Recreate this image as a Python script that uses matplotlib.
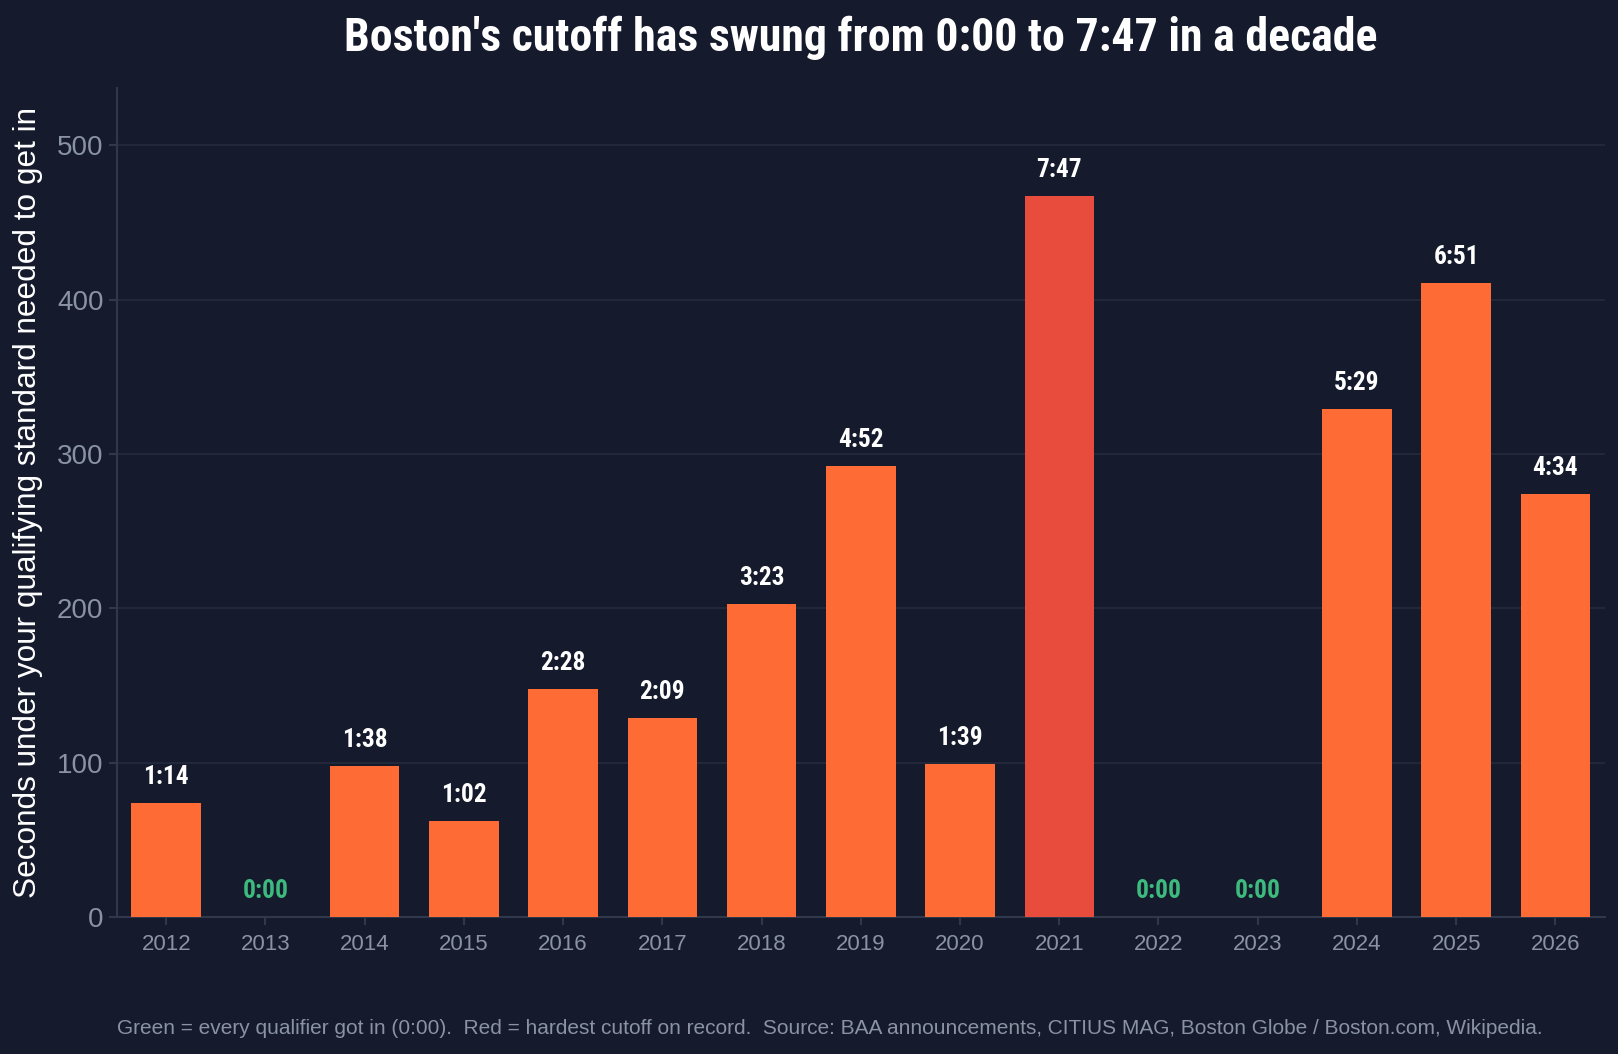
import matplotlib.pyplot as plt
import numpy as np

# data
years = ['2012', '2013', '2014', '2015', '2016', '2017', '2018', '2019',
         '2020', '2021', '2022', '2023', '2024', '2025', '2026']
cutoff_sec = [74, 0, 98, 62, 148, 129, 203, 292, 99, 467, 0, 0, 329, 411, 274]
labels = ['1:14', '0:00', '1:38', '1:02', '2:28', '2:09', '3:23', '4:52',
          '1:39', '7:47', '0:00', '0:00', '5:29', '6:51', '4:34']

BG = '#151b2c'
ORANGE = '#ff6b35'
RED = '#e84c3d'
GREEN = '#3dba7e'
GRID = '#232b3d'
SPINE = '#2f394b'
TICK = '#8a93a3'
cond = ['Roboto Condensed', 'DejaVu Sans']

plt.rcParams['font.family'] = ['Liberation Sans', 'DejaVu Sans']

fig = plt.figure(figsize=(16.18, 10.54), dpi=100, facecolor=BG)
ax = fig.add_axes([116.6 / 1618, 1 - 917 / 1054, (1605 - 116.6) / 1618, (917 - 88) / 1054])
ax.set_facecolor(BG)

x = np.arange(len(years))
mx = max(cutoff_sec)
colors = [RED if v == mx else ORANGE for v in cutoff_sec]
ax.bar(x, cutoff_sec, width=0.7, color=colors, zorder=3)

for xi, v, lab in zip(x, cutoff_sec, labels):
    ax.annotate(lab, (xi, v), xytext=(0, 10), textcoords='offset points',
                ha='center', va='bottom', fontsize=18.3, fontweight='bold',
                color=GREEN if v == 0 else 'white', family=cond)

ax.set_xlim(-0.5, len(years) - 0.5)
ax.set_ylim(0, mx * 1.15)
ax.set_xticks(x)
ax.set_xticklabels(years)
ax.set_yticks([0, 100, 200, 300, 400, 500])
ax.tick_params(axis='x', colors=SPINE, labelcolor=TICK, labelsize=16, length=6, width=1.5, pad=6)
ax.tick_params(axis='y', colors=SPINE, labelcolor=TICK, labelsize=20, length=6, width=1.5)
ax.grid(axis='y', color=GRID, linewidth=1.2, zorder=0)

for s in ['top', 'right']:
    ax.spines[s].set_visible(False)
for s in ['left', 'bottom']:
    ax.spines[s].set_color(SPINE)
    ax.spines[s].set_linewidth(1.5)

ax.set_ylabel('Seconds under your qualifying standard needed to get in',
              fontsize=22.7, color='white', labelpad=10)
ax.set_title("Boston's cutoff has swung from 0:00 to 7:47 in a decade",
             fontsize=33, fontweight='bold', color='white', family=cond, pad=27)

fig.text(116.6 / 1618, 1 - 1028 / 1054,
         'Green = every qualifier got in (0:00).  Red = hardest cutoff on record.  '
         'Source: BAA announcements, CITIUS MAG, Boston Globe / Boston.com, Wikipedia.',
         fontsize=15, color=TICK, ha='left', va='center')

fig.savefig('out.png', dpi=100, facecolor=BG)
